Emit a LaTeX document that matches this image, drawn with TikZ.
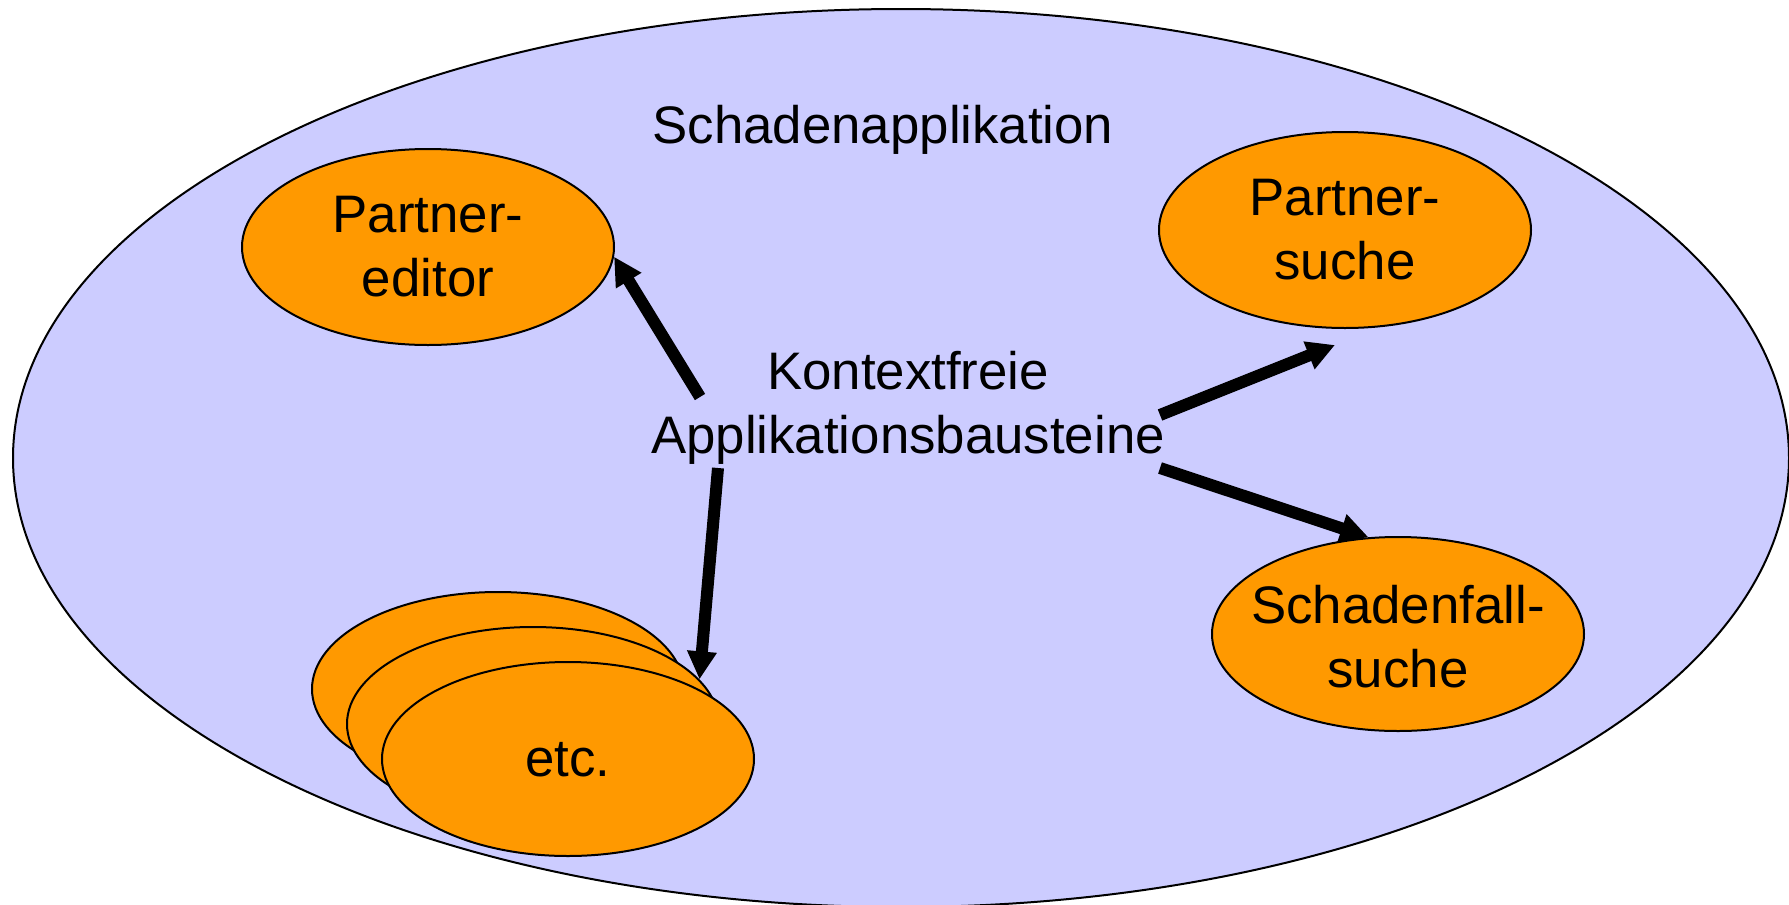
\documentclass[tikz,border=0pt]{standalone}
\usepackage{fontspec}
\setmainfont{Liberation Sans}
\usetikzlibrary{arrows.meta,shapes.geometric}
\definecolor{bgblue}{HTML}{CCCCFF}
\definecolor{orng}{HTML}{FF9900}
\begin{document}
\begin{tikzpicture}[x=0.5pt,y=-0.5pt,
  blob/.style={ellipse,draw=black,line width=1pt,fill=orng,minimum width=186pt,minimum height=97pt,inner sep=0pt},
  lbl/.style={font=\fontsize{26.4}{32}\selectfont,align=center,inner sep=0pt},
  arr/.style={line width=6pt,-{Triangle[length=14pt,width=14pt]}}]
\useasboundingbox (0,0) rectangle (1789,905);
\node[ellipse,draw=black,line width=1pt,fill=bgblue,minimum width=888pt,minimum height=449pt,inner sep=0pt] (app) at (901,458) {};
\node[lbl,anchor=base] (apptitle) at (883,143) {Schadenapplikation};
% components
\node[blob,minimum height=98pt] (pe) at (428,247) {};
\node[lbl] (pelbl) at (428,247) {Partner-\\editor};
\node[blob,minimum height=98pt] (ps) at (1345,230) {};
\node[lbl] (pslbl) at (1345,230) {Partner-\\suche};
\node[blob] (sf) at (1398,634) {};
\node[lbl] (sflbl) at (1398,637) {Schadenfall-\\suche};
\node[blob] (e1) at (498,689) {};
\node[blob] (e2) at (533,724) {};
\node[blob] (e3) at (568,759) {};
\node[lbl] (etclbl) at (568,760) {etc.};
% central text
\node[lbl] (ctx) at (908,408) {Kontextfreie\\Applikationsbausteine};
% arrow ends
\coordinate (t1) at (700,397);
\coordinate (t2) at (718,468);
\coordinate (t3) at (1160,415);
\coordinate (t4) at (1160,468);
\coordinate (h3) at ([shift={(-10,16)}]ps.south);
\draw[arr] (t1) -- (pe.-3);
\draw[arr] (t2) -- (e2.15);
\draw[arr] (t3) -- (h3);
\draw[arr] (t4) -- (sf.107);
\end{tikzpicture}
\end{document}
